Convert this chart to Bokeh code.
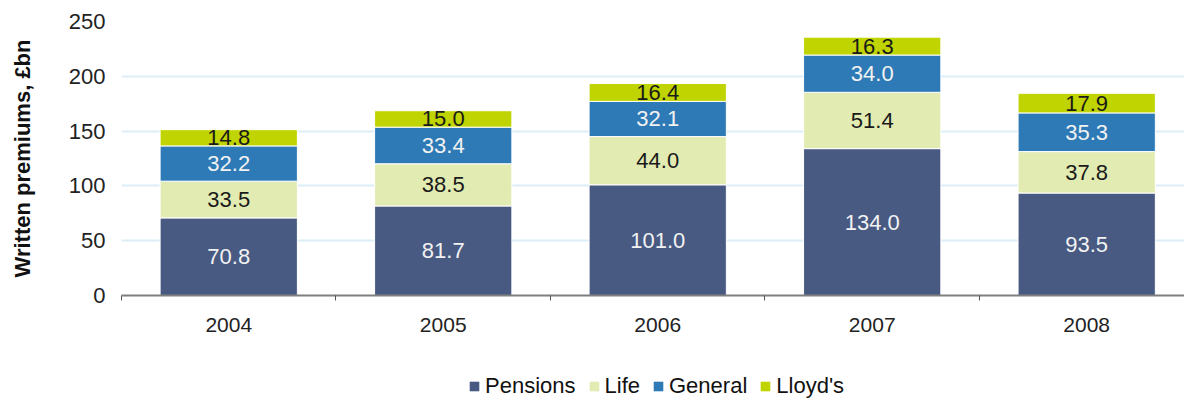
from bokeh.plotting import figure
from bokeh.models import Range1d, FixedTicker, Legend, LegendItem, ColumnDataSource
from bokeh.layouts import column
from bokeh.core.properties import value
from bokeh.embed import file_html
from bokeh.resources import INLINE

years = ["2004", "2005", "2006", "2007", "2008"]
pensions = [70.8, 81.7, 101.0, 134.0, 93.5]
life = [33.5, 38.5, 44.0, 51.4, 37.8]
general = [32.2, 33.4, 32.1, 34.0, 35.3]
lloyds = [14.8, 15.0, 16.4, 16.3, 17.9]
series_names = ["Pensions", "Life", "General", "Lloyd's"]
colors = ["#485a82", "#e2ecb2", "#2e7ab6", "#bfd400"]
label_colors = ["#f2f2f2", "#1a1a1a", "#f2f2f2", "#1a1a1a"]
y_ticks = [0, 50, 100, 150, 200, 250]

FONT = "Liberation Sans"
xs = list(range(len(years)))

data = {"x": xs, "Pensions": pensions, "Life": life, "General": general, "Lloyd's": lloyds}
source = ColumnDataSource(data)

p = figure(width=1184, height=343, output_backend="svg", toolbar_location=None,
           x_range=Range1d(-0.5, 4.456), y_range=Range1d(0, 250),
           min_border_left=121, min_border_right=0, min_border_top=21, min_border_bottom=48)
p.outline_line_color = None
p.background_fill_color = "white"

p.vbar_stack(series_names, x="x", width=0.64, source=source,
             fill_color=colors, line_color="white", line_width=1)

# labels
series_vals = [pensions, life, general, lloyds]
bottoms = [0.0] * len(years)
for vals, lc in zip(series_vals, label_colors):
    mids = [b + v / 2 for b, v in zip(bottoms, vals)]
    p.text(x=xs, y=mids, text=[f"{v:.1f}" for v in vals], text_align="center",
           text_baseline="middle", text_color=lc, text_font=value(FONT),
           text_font_size="22px")
    bottoms = [b + v for b, v in zip(bottoms, vals)]

# axes
p.yaxis.ticker = FixedTicker(ticks=y_ticks)
p.yaxis.axis_line_color = None
p.yaxis.major_tick_line_color = None
p.yaxis.minor_tick_line_color = None
p.yaxis.major_label_text_font = FONT
p.yaxis.major_label_text_font_size = "22px"
p.yaxis.major_label_text_color = "#222222"
p.yaxis.major_label_standoff = 10
p.yaxis.axis_label = "Written premiums, £bn"
p.yaxis.axis_label_text_font = FONT
p.yaxis.axis_label_text_font_style = "bold"
p.yaxis.axis_label_text_font_size = "22px"
p.yaxis.axis_label_text_color = "#111111"
p.yaxis.axis_label_standoff = 31

p.xaxis.ticker = FixedTicker(ticks=xs, minor_ticks=[-0.5, 0.5, 1.5, 2.5, 3.5])
p.xaxis.major_label_overrides = {i: y for i, y in zip(xs, years)}
p.xaxis.axis_line_color = "#7f7f7f"
p.xaxis.axis_line_width = 2
p.xaxis.major_tick_line_color = None
p.xaxis.minor_tick_line_color = "#555555"
p.xaxis.minor_tick_out = 5
p.xaxis.minor_tick_in = 0
p.xaxis.major_label_text_font = FONT
p.xaxis.major_label_text_font_size = "21px"
p.xaxis.major_label_text_color = "#222222"
p.xaxis.major_label_standoff = 16

p.xgrid.grid_line_color = None
p.ygrid.grid_line_color = "#dcedf8"
p.ygrid.grid_line_width = 2

# legend strip
pl = figure(width=1184, height=56, output_backend="svg", toolbar_location=None,
            x_range=Range1d(0, 1), y_range=Range1d(0, 1),
            x_axis_location=None, y_axis_location=None,
            min_border_left=0, min_border_right=0, min_border_top=0, min_border_bottom=0)
pl.outline_line_color = None
pl.grid.visible = False
dummy = ColumnDataSource({"x": [10], "top": [1]})
items = []
for n, c in zip(series_names, colors):
    r = pl.vbar(x="x", top="top", width=0.1, source=dummy, fill_color=c, line_color=None)
    items.append(LegendItem(label=n, renderers=[r]))
legend = Legend(items=items, orientation="horizontal", location=(347, 0))
legend.padding = 0
legend.margin = 0
legend.border_line_color = None
legend.background_fill_alpha = 0
legend.glyph_width = 12
legend.glyph_height = 12
legend.label_standoff = 5
legend.spacing = 12
legend.label_text_font = FONT
legend.label_text_font_size = "22px"
legend.label_text_color = "#111111"
pl.add_layout(legend, "center")

layout = column(p, pl, spacing=0)
open("out.html", "w").write(file_html(layout, INLINE))
